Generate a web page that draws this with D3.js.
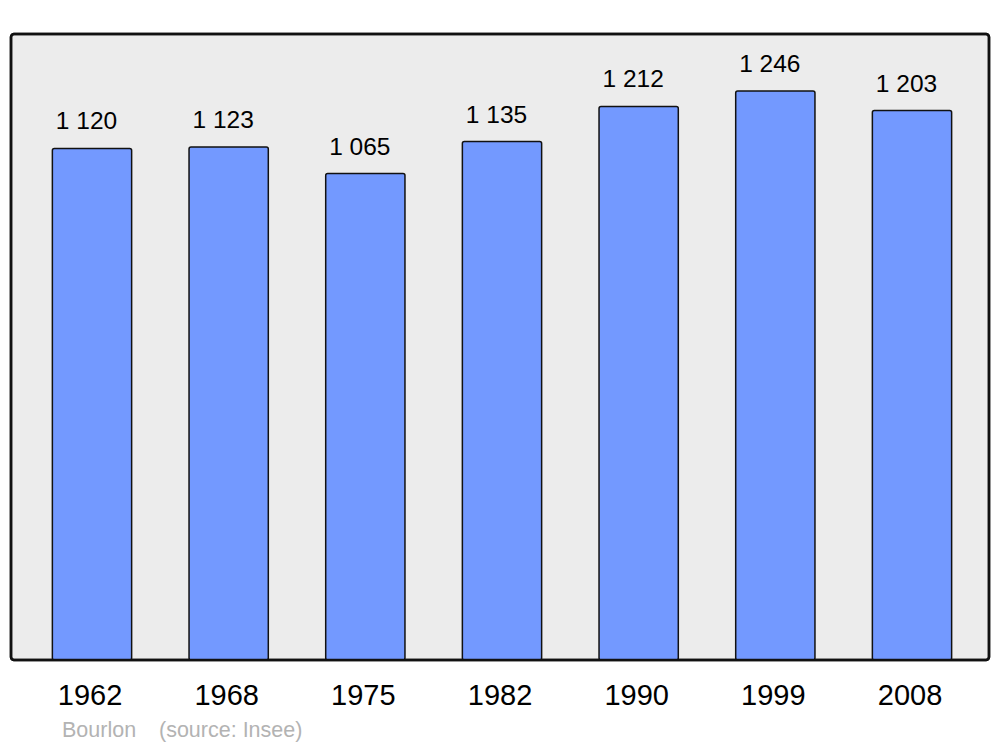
<!DOCTYPE html>
<html><head><meta charset="utf-8">
<script src="https://cdn.jsdelivr.net/npm/d3@7"></script>
<style>html,body{margin:0;padding:0;background:#fff;}svg{display:block;}</style>
</head><body>
<script>
const years = ["1962","1968","1975","1982","1990","1999","2008"];
const population = [1120,1123,1065,1135,1212,1246,1203];
const commune = "Bourlon";
const sourceText = "(source: Insee)";

const W = 1000, H = 747;
const svg = d3.select("body").append("svg").attr("width", W).attr("height", H);
const font = "'Liberation Sans', Arial, sans-serif";

const panel = {x0: 11, x1: 989, y0: 34, y1: 660};
svg.append("rect").attr("x", panel.x0).attr("y", panel.y0)
  .attr("width", panel.x1 - panel.x0).attr("height", panel.y1 - panel.y0)
  .attr("rx", 3).attr("fill", "#ececec").attr("stroke", "#111").attr("stroke-width", 2.5);

const x = d3.scaleBand().domain(years).range([23.67, 980.33]).paddingInner(0.42).paddingOuter(0.21);
const y = d3.scaleLinear().domain([0, d3.max(population) * 1.1]).range([panel.y1, panel.y0]);

const fmt = d3.formatLocale({decimal: ",", thousands: " ", grouping: [3], currency: ["", ""]}).format(",d");

svg.selectAll("rect.bar").data(years).join("rect").attr("class", "bar")
  .attr("x", d => x(d)).attr("width", x.bandwidth())
  .attr("y", (d, i) => y(population[i])).attr("height", (d, i) => panel.y1 - y(population[i]))
  .attr("rx", 2).attr("fill", "#7399ff").attr("stroke", "#111").attr("stroke-width", 1.5);

svg.append("rect").attr("x", panel.x0).attr("y", panel.y0)
  .attr("width", panel.x1 - panel.x0).attr("height", panel.y1 - panel.y0)
  .attr("rx", 3).attr("fill", "none").attr("stroke", "#111").attr("stroke-width", 2.5);

svg.selectAll("text.val").data(years).join("text").attr("class", "val")
  .attr("x", d => x(d) + x.bandwidth() / 2 - 5.5)
  .attr("y", (d, i) => y(population[i]) - 19)
  .attr("text-anchor", "middle").attr("font-family", font).attr("font-size", 24.5).attr("fill", "#000")
  .text((d, i) => fmt(population[i]));

const xAxis = svg.append("g").attr("transform", `translate(0,${panel.y1})`)
  .call(d3.axisBottom(x).tickSize(0).tickPadding(0));
xAxis.select(".domain").remove();
xAxis.selectAll("text").attr("font-family", font).attr("font-size", 29).attr("fill", "#000")
  .attr("dy", null).attr("y", 45).attr("dx", -2);

svg.append("text").attr("x", 62).attr("y", 737).attr("font-family", font).attr("font-size", 21.5)
  .attr("fill", "#b3b3b3").text(commune);
svg.append("text").attr("x", 159).attr("y", 737).attr("font-family", font).attr("font-size", 21.5)
  .attr("fill", "#b3b3b3").text(sourceText);
</script>
</body></html>
